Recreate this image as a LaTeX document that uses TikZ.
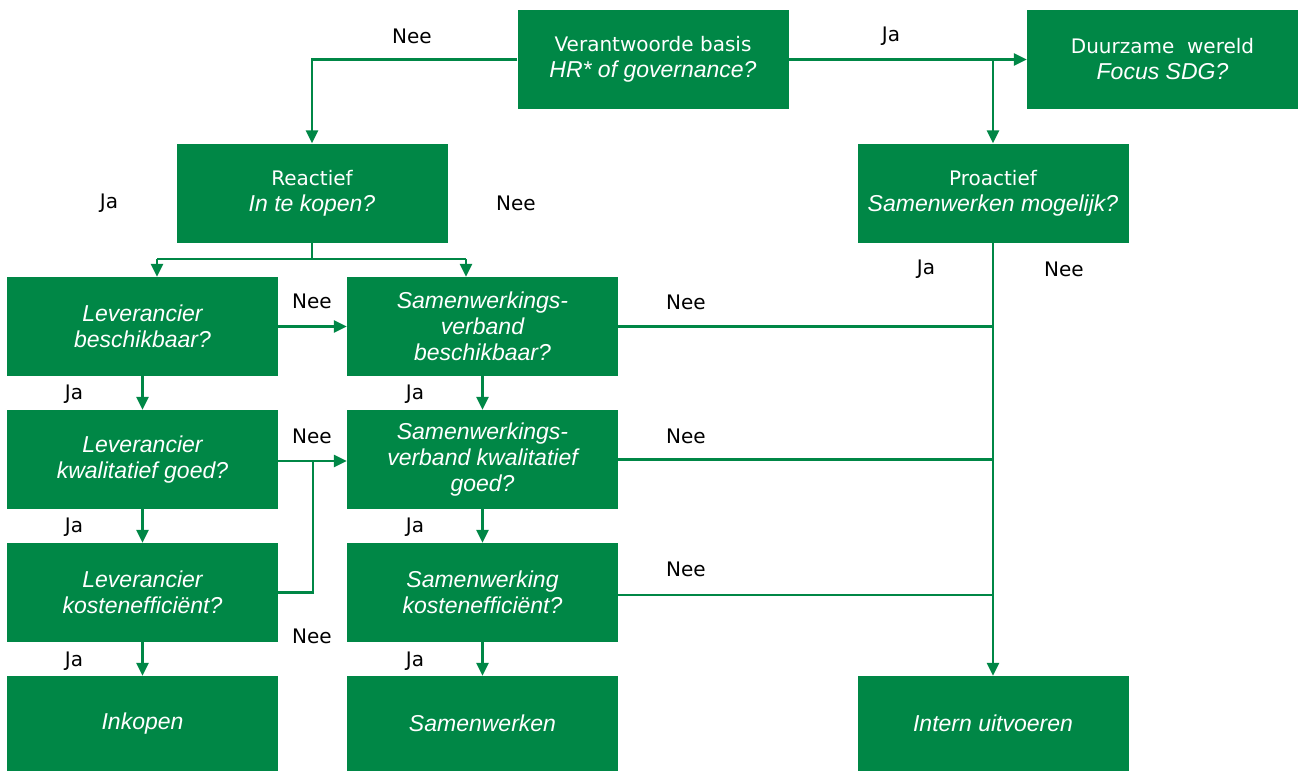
\documentclass[tikz,border=0pt]{standalone}
\usepackage{fontspec}
\setmainfont{Liberation Sans}
\newfontfamily\lblfont{DejaVu Sans}
\usetikzlibrary{arrows.meta}
\definecolor{fgreen}{RGB}{0,135,70}
\tikzset{
  box/.style={fill=fgreen, text=white, minimum width=271pt, minimum height=99pt, inner sep=0pt, align=center,
    font=\fontsize{23}{26}\selectfont\itshape},
  lbl/.style={text=black, inner sep=0pt, font=\lblfont\fontsize{20}{24}\selectfont},
  conn/.style={draw=fgreen, line width=2.6pt},
  arr/.style={conn, -{Triangle[length=13pt,width=12pt]}},
}
\newcommand{\up}[1]{{\upshape\lblfont\fontsize{20}{26}\selectfont #1}}
\begin{document}
\begin{tikzpicture}[x=1pt,y=-1pt]
\useasboundingbox (0,0) rectangle (1300,771);
% boxes
\node[box] (b1) at (653,59.5) {\up{Verantwoorde basis}\\HR* of governance?};
\node[box] (b2) at (1162.5,59.5) {\up{Duurzame\ \ wereld}\\Focus SDG?};
\node[box] (reac) at (312,193) {\up{Reactief}\\In te kopen?};
\node[box] (pro) at (993,193) {\up{Proactief}\\Samenwerken mogelijk?};
\node[box] (l1) at (142.5,326.5) {Leverancier\\beschikbaar?};
\node[box] (s1) at (482.5,326.5) {Samenwerkings-\\verband\\beschikbaar?};
\node[box] (l2) at (142.5,459.5) {Leverancier\\kwalitatief goed?};
\node[box] (s2) at (482.5,459.5) {Samenwerkings-\\verband kwalitatief\\goed?};
\node[box] (l3) at (142.5,592.5) {Leverancier\\kostenefficiënt?};
\node[box] (s3) at (482.5,592.5) {Samenwerking\\kostenefficiënt?};
\node[box, minimum height=95pt] (ink) at (142.5,723.5) {\raisebox{-3pt}{Inkopen}};
\node[box, minimum height=95pt] (sam) at (482.5,723.5) {\raisebox{-3pt}{Samenwerken}};
\node[box, minimum height=95pt] (iu) at (993,723.5) {\raisebox{-3pt}{Intern uitvoeren}};
% coordinates
\coordinate (sl) at (157,259);
\coordinate (sr) at (466,259);
\coordinate (j2) at (313,461);
% connectors
\draw[arr] (b1.west) -| (reac.north);
\draw[arr] (b1.east) -- (b2.west);
\draw[arr] (pro.north |- b1.east) -- (pro.north);
\draw[conn] (reac.south) |- (sl);
\draw[conn] (reac.south) |- (sr);
\draw[arr] (sl) -- (sl |- l1.north);
\draw[arr] (sr) -- (sr |- s1.north);
\draw[arr] (l1.east) -- (s1.west);
\draw[arr] (l2.east |- j2) -- (s2.west |- j2);
\draw[conn] (l3.east) -| (j2);
\draw[arr] (l1.south) -- (l2.north);
\draw[arr] (l2.south) -- (l3.north);
\draw[arr] (l3.south) -- (ink.north);
\draw[arr] (s1.south) -- (s2.north);
\draw[arr] (s2.south) -- (s3.north);
\draw[arr] (s3.south) -- (sam.north);
\draw[arr] (pro.south) -- (iu.north);
\draw[conn] (s1.east) -- (s1.east -| pro.south);
\draw[conn] (s2.east) -- (s2.east -| pro.south);
\draw[conn] ([yshift=-2.5pt]s3.east) -- ([yshift=-2.5pt]s3.east -| pro.south);
% labels
\node[lbl] (n1) at (412,36) {Nee};
\node[lbl] (y1) at (891,36) {Ja};
\node[lbl] (y2) at (109,203) {Ja};
\node[lbl] (n2) at (516,203) {Nee};
\node[lbl] (n3) at (312,301) {Nee};
\node[lbl] (n4) at (312,436) {Nee};
\node[lbl] (n5) at (312,636) {Nee};
\node[lbl] (n6) at (686,302) {Nee};
\node[lbl] (n7) at (686,436) {Nee};
\node[lbl] (n8) at (686,569) {Nee};
\node[lbl] (y3) at (926,269) {Ja};
\node[lbl] (n9) at (1064,269) {Nee};
\node[lbl] (y4) at (74,394) {Ja};
\node[lbl] (y5) at (415,394) {Ja};
\node[lbl] (y6) at (74,527) {Ja};
\node[lbl] (y7) at (415,527) {Ja};
\node[lbl] (y8) at (74,661) {Ja};
\node[lbl] (y9) at (415,661) {Ja};
\end{tikzpicture}
\end{document}
